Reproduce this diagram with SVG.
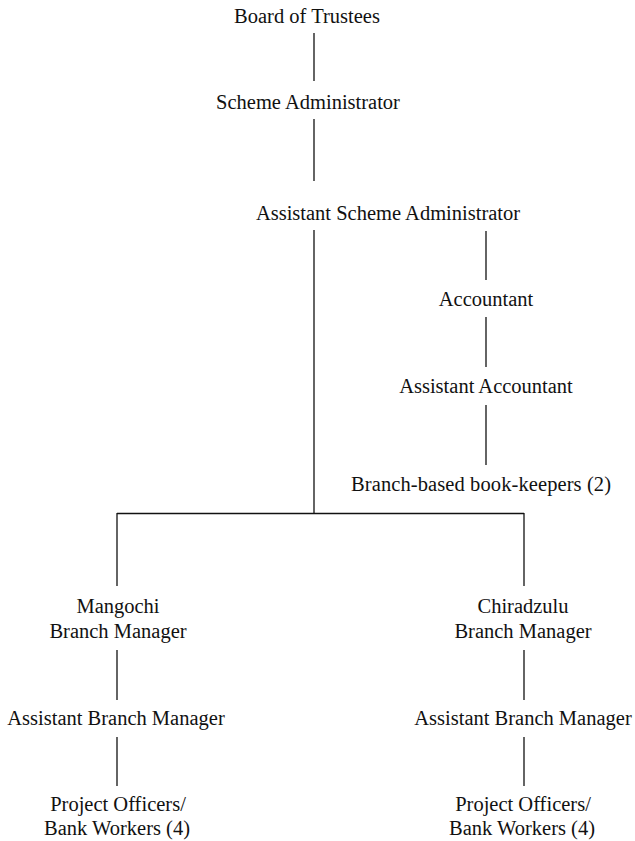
<svg xmlns="http://www.w3.org/2000/svg" width="635" height="841" viewBox="0 0 635 841">
<style>
text{font-family:"Liberation Serif","Times New Roman",serif;font-size:20.5px;fill:#111;text-anchor:middle}
.c line{stroke:#111;stroke-width:1.3;fill:none}
</style>
<rect width="635" height="841" fill="#fff"/>
<g class="c" id="connectors">
<line x1="314" y1="33" x2="314" y2="81"/>
<line x1="314" y1="119" x2="314" y2="181"/>
<line x1="314" y1="230" x2="314" y2="514"/>
<line x1="486" y1="231" x2="486" y2="280"/>
<line x1="486" y1="317" x2="486" y2="367"/>
<line x1="486" y1="405" x2="486" y2="465"/>
<line x1="117" y1="513.5" x2="524" y2="513.5"/>
<line x1="117" y1="513" x2="117" y2="586"/>
<line x1="524" y1="513" x2="524" y2="586"/>
<line x1="117" y1="650" x2="117" y2="700"/>
<line x1="524" y1="650" x2="524" y2="700"/>
<line x1="117" y1="737" x2="117" y2="786"/>
<line x1="524" y1="737" x2="524" y2="786"/>
</g>
<g id="board"><text x="307" y="23">Board of Trustees</text></g>
<g id="scheme-admin"><text x="308" y="109">Scheme Administrator</text></g>
<g id="asst-scheme-admin"><text x="388" y="220">Assistant Scheme Administrator</text></g>
<g id="accountant"><text x="486" y="306">Accountant</text></g>
<g id="asst-accountant"><text x="486" y="393">Assistant Accountant</text></g>
<g id="bookkeepers"><text x="481" y="491" textLength="260">Branch-based book-keepers (2)</text></g>
<g id="mangochi"><text x="118" y="613">Mangochi</text><text x="118" y="638">Branch Manager</text></g>
<g id="chiradzulu"><text x="523" y="613">Chiradzulu</text><text x="523" y="638">Branch Manager</text></g>
<g id="asst-bm-left"><text x="116" y="725">Assistant Branch Manager</text></g>
<g id="asst-bm-right"><text x="523" y="725">Assistant Branch Manager</text></g>
<g id="po-left"><text x="118" y="811">Project Officers/</text><text x="117" y="835">Bank Workers (4)</text></g>
<g id="po-right"><text x="523" y="811">Project Officers/</text><text x="522" y="835">Bank Workers (4)</text></g>
</svg>
